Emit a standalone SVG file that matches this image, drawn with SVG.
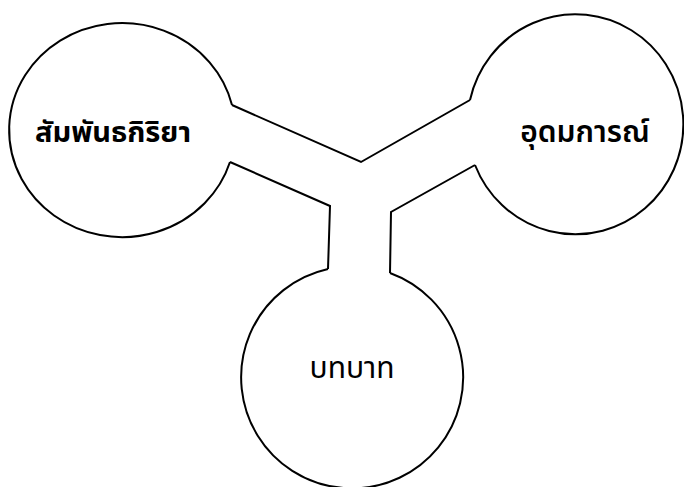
<svg xmlns="http://www.w3.org/2000/svg" width="684" height="487" viewBox="0 0 684 487">
<style>
.edge{fill:none;stroke:#000;stroke-width:2;stroke-linejoin:miter}
.lbl{font-family:"Noto Sans Thai","Noto Sans","DejaVu Sans",sans-serif;font-size:30px;fill:#000;text-anchor:middle}
.b{font-weight:bold}
.m{font-weight:600}
</style>
<rect width="684" height="487" fill="#fff"/>
<g id="connectors">
<path class="edge" d="M232,105 L361,162 L470,100"/>
<path class="edge" d="M230,162 L330,206 L328,269"/>
<path class="edge" d="M475,165 L391,212 L390,273"/>
</g>
<g id="node-left">
<path class="edge" d="M232,105 A113,107 0 1 0 230,162"/>
<text class="lbl b" x="113" y="142" style="font-size:29px">สัมพันธกิริยา</text>
</g>
<g id="node-right">
<path class="edge" d="M470,100 A108,110 0 1 1 475,165"/>
<text class="lbl m" x="585" y="142" style="font-size:30px">อุดมการณ์</text>
</g>
<g id="node-bottom">
<path class="edge" d="M328,269 A111,111 0 1 0 390,273"/>
<text class="lbl" x="352" y="378">บทบาท</text>
</g>
</svg>
